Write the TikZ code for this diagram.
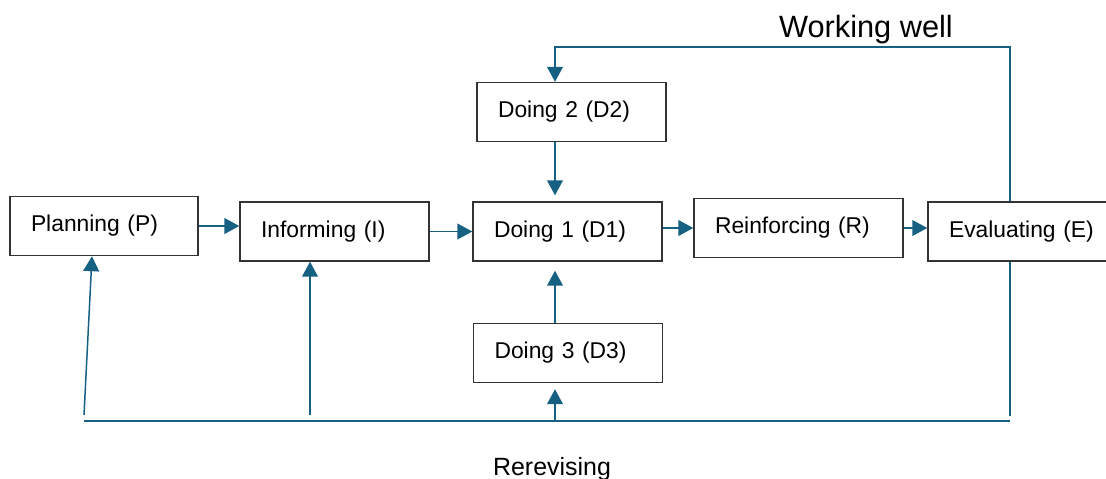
\documentclass[tikz,border=0pt]{standalone}
\usepackage{fontspec}
\setmainfont{Liberation Sans}
\usepackage{xcolor}
\usepackage{tikz}
\usetikzlibrary{arrows.meta,positioning,calc}
\definecolor{flowblue}{RGB}{22,96,130}
\tikzset{
  box/.style={draw=black!80, line width=.85pt, align=left, minimum height=1.18cm,
    inner xsep=.42cm, inner ysep=0pt, text width=2.94cm, font=\fontsize{13}{15}\selectfont},
  widebox/.style={box, text width=3.34cm},
  link/.style={line width=.85pt, flowblue},
  flow/.style={link, -{Triangle[length=8.5pt, width=9pt]}}
}

\begin{document}
\begin{tikzpicture}[
    x=0.02cm, y=-0.02cm,
    looplabel/.style={font=\fontsize{17.5}{20}\selectfont, anchor=base}
  ]
    \clip (0,0) rectangle (1106,478);
    \path[use as bounding box] (0,0) rectangle (1106,478);

    % steps
    \node[box, text width=2.92cm] (P) at (104,226) {Planning (P)};
    \node[box] (I) at (334.5,231.5) {Informing (I)};
    \node[box] (D1) at (567.5,231.5) {Doing 1 (D1)};
    \node[box] (D2) at (571.5,112) {Doing 2 (D2)};
    \node[box] (D3) at (568,353) {Doing 3 (D3)};
    \node[widebox] (R) at (798.5,228) {Reinforcing (R)};
    \node[box] (E) at (1022.5,231.5) {Evaluating (E)};

    % helper points
    \coordinate (dcol) at (555,0);
    \coordinate (wtop) at (1010,47);
    \coordinate (rend) at (1010,416);
    \coordinate (rl) at (84,421);
    \coordinate (rr) at (1010,421);
    \coordinate (pfoot) at (84,415);
    \coordinate (ifoot) at (310,415);
    \coordinate (ptip) at (92,0);

    \draw[flow] (P.east) -- (P.east -| I.west);
    \draw[flow] (I) -- (D1);
    \draw[flow] (R.west -| D1.east) -- (R.west);
    \draw[flow] (R) -- (R -| E.west);
    \draw[flow, shorten >=1.2mm] (D2.south -| dcol) -- (D1.north -| dcol);
    \draw[flow, shorten >=1.8mm] (D3.north -| dcol) -- (D1.south -| dcol);

    % working well loop
    \draw[flow] (E.north -| wtop) -- (wtop) -| (D2.north -| dcol);

    % rerevising loop
    \draw[link] (E.south -| rend) -- (rend);
    \draw[link] (rl) -- (rr);
    \draw[flow, shorten >=1.2mm] (rl -| dcol) -- (D3.south -| dcol);
    \draw[flow] (ifoot) -- (I.south -| ifoot);
    \draw[flow] (pfoot) -- (P.south -| ptip);

    \node[looplabel] (ww) at (866,37.7) {Working well};
    \node[looplabel, font=\fontsize{14.2}{17}\selectfont] (rv) at (552,475) {Rerevising};
  \end{tikzpicture}
\end{document}
